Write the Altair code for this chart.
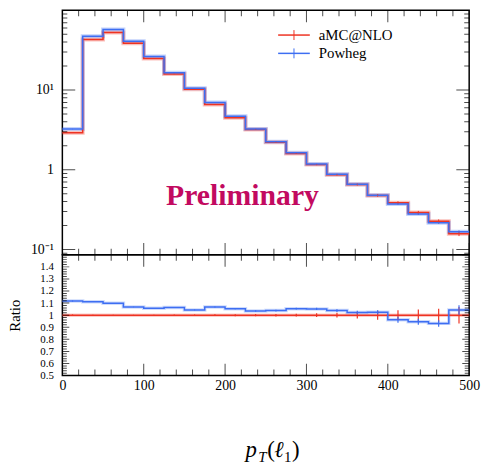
import altair as alt
import pandas as pd

# ---------------- data ----------------
bin_edges = [0, 25, 50, 75, 100, 125, 150, 175, 200, 225, 250,
             275, 300, 325, 350, 375, 400, 425, 450, 475, 500]
amc_nlo = [2.91, 43.0, 52.8, 38.7, 24.8, 15.9, 10.2, 6.6, 4.5, 3.2,
           2.22, 1.60, 1.16, 0.867, 0.653, 0.477, 0.387, 0.291, 0.226, 0.158]
powheg = [3.24, 47.2, 57.6, 40.9, 26.3, 16.5, 10.5, 7.0, 4.68, 3.25,
          2.25, 1.63, 1.18, 0.88, 0.66, 0.48, 0.373, 0.278, 0.216, 0.167]
amc_err = [0.006, 0.003, 0.003, 0.003, 0.004, 0.005, 0.006, 0.007, 0.008, 0.009,
           0.010, 0.012, 0.015, 0.020, 0.027, 0.037, 0.040, 0.048, 0.054, 0.068]
pow_err = [0.005, 0.002, 0.002, 0.002, 0.003, 0.003, 0.004, 0.004, 0.005, 0.006,
           0.007, 0.008, 0.010, 0.012, 0.014, 0.016, 0.025, 0.025, 0.027, 0.040]
amc_ratio = [1.0] * 20
pow_ratio = [1.117, 1.112, 1.098, 1.068, 1.057, 1.063, 1.043, 1.068, 1.054, 1.035,
             1.038, 1.054, 1.052, 1.038, 1.022, 1.024, 0.962, 0.946, 0.932, 1.043]

series_names = ["aMC@NLO", "Powheg"]
x_labels = [0, 100, 200, 300, 400, 500]
x_ticks = list(range(0, 501, 20))
top_y_labels = [0.1, 1, 10]
top_y_ticks = [0.09, 0.1, 0.2, 0.3, 0.4, 0.5, 0.6, 0.7, 0.8, 0.9,
               1, 2, 3, 4, 5, 6, 7, 8, 9, 10, 20, 30, 40, 50, 60, 70, 80, 90, 100]
top_y_major = [0.1, 1, 10, 100]
ratio_y_labels = [0.5, 0.6, 0.7, 0.8, 0.9, 1.0, 1.1, 1.2, 1.3, 1.4]
ratio_y_ticks = [round(0.5 + 0.02 * i, 2) for i in range(51)]

# ---------------- style ----------------
RED = "#ee3322"
BLUE = "#3d6ef2"
PINK = "#c20a60"
FONT = "Liberation Serif"
W, H1, H2 = 411, 247, 122

xsc = alt.Scale(domain=[0, 500], nice=False, zero=False)
ysc_top = alt.Scale(type="log", domain=[0.0858, 100], nice=False)
ysc_bot = alt.Scale(domain=[0.5, 1.5], nice=False, zero=False)
csc = alt.Scale(domain=series_names, range=[RED, BLUE])

ax_top_y = alt.Axis(values=top_y_labels, grid=False, domain=False, ticks=False,
                    labelPadding=9, minExtent=40, maxExtent=40, title=None,
                    labelFont=FONT, labelFontSize=14, labelColor="black",
                    labelOverlap=False, labelFlush=False,
                    labelExpr="datum.value < 0.5 ? '10\u207b\u00b9' : (datum.value > 5 ? '10\u00b9' : '1')")
ax_bot_y = alt.Axis(values=ratio_y_labels, grid=False, domain=False, ticks=False,
                    labelPadding=9, minExtent=40, maxExtent=40, title="Ratio",
                    titleFont=FONT, titleFontSize=15, titleFontWeight="normal",
                    titlePadding=0, titleColor="black",
                    labelFont=FONT, labelFontSize=11, labelColor="black",
                    labelOverlap=False, labelFlush=False,
                    labelExpr="datum.value == 1 ? '1' : format(datum.value, '.1f')")
ax_bot_x = alt.Axis(values=x_labels, grid=False, domain=False, ticks=False,
                    labelPadding=3, title=None, labelFont=FONT, labelFontSize=14,
                    labelColor="black", labelFlush=False, labelOverlap=False)

def XT(f):
    return alt.X(f, type="quantitative", scale=xsc, axis=None)

def XB(f):
    return alt.X(f, type="quantitative", scale=xsc, axis=ax_bot_x)

def YT(f):
    return alt.Y(f, type="quantitative", scale=ysc_top, axis=ax_top_y)

def YB(f):
    return alt.Y(f, type="quantitative", scale=ysc_bot, axis=ax_bot_y)

# ---------------- tables ----------------
step_rows, bin_rows = [], []
for name, vals, errs, rat in [("aMC@NLO", amc_nlo, amc_err, amc_ratio),
                              ("Powheg", powheg, pow_err, pow_ratio)]:
    for i in range(21):
        j = min(i, 19)
        step_rows.append(dict(series=name, x=bin_edges[i], y=vals[j], r=rat[j]))
    for i in range(20):
        bin_rows.append(dict(series=name, xc=(bin_edges[i] + bin_edges[i + 1]) / 2,
                             lo=vals[i] * (1 - errs[i]), hi=vals[i] * (1 + errs[i]),
                             rlo=rat[i] - errs[i], rhi=rat[i] + errs[i]))
steps = pd.DataFrame(step_rows)
bins = pd.DataFrame(bin_rows)

xt = pd.DataFrame(dict(v=x_ticks, len=[24 if v % 100 == 0 else 12 for v in x_ticks]))
yt_top = pd.DataFrame(dict(v=top_y_ticks, len=[26 if v in top_y_major else 10 for v in top_y_ticks]))
yt_bot = pd.DataFrame(dict(v=ratio_y_ticks,
                           len=[14 if abs(v * 10 - round(v * 10)) < 1e-6 else 9 for v in ratio_y_ticks]))
one = pd.DataFrame({"a": [0]})

color = alt.Color("series:N", scale=csc, legend=None)

def xticks(X, h):
    out = []
    for ypix in [0, h]:
        out.append(alt.Chart(xt).mark_tick(clip=True, color="black", thickness=1)
                   .encode(x=X("v"), y=alt.value(ypix),
                           size=alt.Size("len:Q", scale=None, legend=None)))
    return out

def yticks(df, Y):
    out = []
    for xpix in [0, W]:
        out.append(alt.Chart(df).mark_tick(clip=True, color="black", thickness=1,
                                           orient="horizontal")
                   .encode(y=Y("v"), x=alt.value(xpix),
                           size=alt.Size("len:Q", scale=None, legend=None)))
    return out

# ---------------- top panel ----------------
halo_top = alt.Chart(steps).mark_line(interpolate="step-after", strokeWidth=4,
                                      opacity=0.3).encode(
    x=XT("x"), y=YT("y"), color=color, detail="series:N")
line_top = alt.Chart(steps).mark_line(interpolate="step-after", strokeWidth=1.5).encode(
    x=XT("x"), y=YT("y"), color=color, detail="series:N")
err_top = alt.Chart(bins).mark_rule(strokeWidth=1).encode(
    x=XT("xc"), y=YT("lo"), y2="hi", color=color)

prelim = alt.Chart(one).mark_text(text="Preliminary", font=FONT, fontSize=30,
                                  fontWeight="bold", color=PINK, align="center",
                                  baseline="alphabetic").encode(
    x=alt.value(182), y=alt.value(197))

legend_layers = []
for name, col, ypix in [("aMC@NLO", RED, 25), ("Powheg", BLUE, 43.5)]:
    legend_layers.append(alt.Chart(one).mark_rule(color=col, strokeWidth=1.5).encode(
        x=alt.value(218), x2=alt.value(250), y=alt.value(ypix)))
    legend_layers.append(alt.Chart(one).mark_rule(color=col, strokeWidth=1).encode(
        x=alt.value(234), y=alt.value(ypix - 5), y2=alt.value(ypix + 5)))
    legend_layers.append(alt.Chart(one).mark_text(text=name, font=FONT, fontSize=15,
                                                  color="black", align="left",
                                                  baseline="middle").encode(
        x=alt.value(259), y=alt.value(ypix)))

top = alt.layer(halo_top, line_top, err_top,
                *xticks(XT, H1), *yticks(yt_top, YT),
                prelim, *legend_layers).properties(width=W, height=H1)

# ---------------- bottom panel ----------------
halo_bot = alt.Chart(steps).mark_line(interpolate="step-after", strokeWidth=3.5,
                                      opacity=0.25).encode(
    x=XB("x"), y=YB("r"), color=color, detail="series:N")
line_bot = alt.Chart(steps).mark_line(interpolate="step-after", strokeWidth=1.5).encode(
    x=XB("x"), y=YB("r"), color=color, detail="series:N")
err_bot = alt.Chart(bins).mark_rule(strokeWidth=1.2).encode(
    x=XB("xc"), y=YB("rlo"), y2="rhi", color=color)

title_parts = [("p", 185, 23, "italic", 0), ("T", 198, 15, "italic", 5),
               ("(", 207, 23, "normal", 0), ("\u2113", 214, 23, "italic", 0),
               ("1", 224, 15, "normal", 5), (")", 232, 23, "normal", 0)]
title_layers = []
for txt, xp, fs, st, dy in title_parts:
    title_layers.append(alt.Chart(one).mark_text(text=txt, font=FONT, fontSize=fs,
                                                 fontStyle=st, color="black",
                                                 align="left", baseline="alphabetic",
                                                 dy=dy).encode(
        x=alt.value(xp), y=alt.value(H2 + 82)))

bottom = alt.layer(halo_bot, line_bot, err_bot,
                   *xticks(XB, H2), *yticks(yt_bot, YB),
                   *title_layers).properties(width=W, height=H2)

chart = alt.vconcat(top, bottom, spacing=0, bounds="flush").resolve_scale(
    y="independent", x="shared").properties(
    padding={"left": 7, "top": 7, "right": 5, "bottom": 2},
    background="white"
).configure_view(stroke="black", strokeWidth=1.5).configure_axis(grid=False)

chart.save("out.html", embed_options={"renderer": "svg", "actions": False})
